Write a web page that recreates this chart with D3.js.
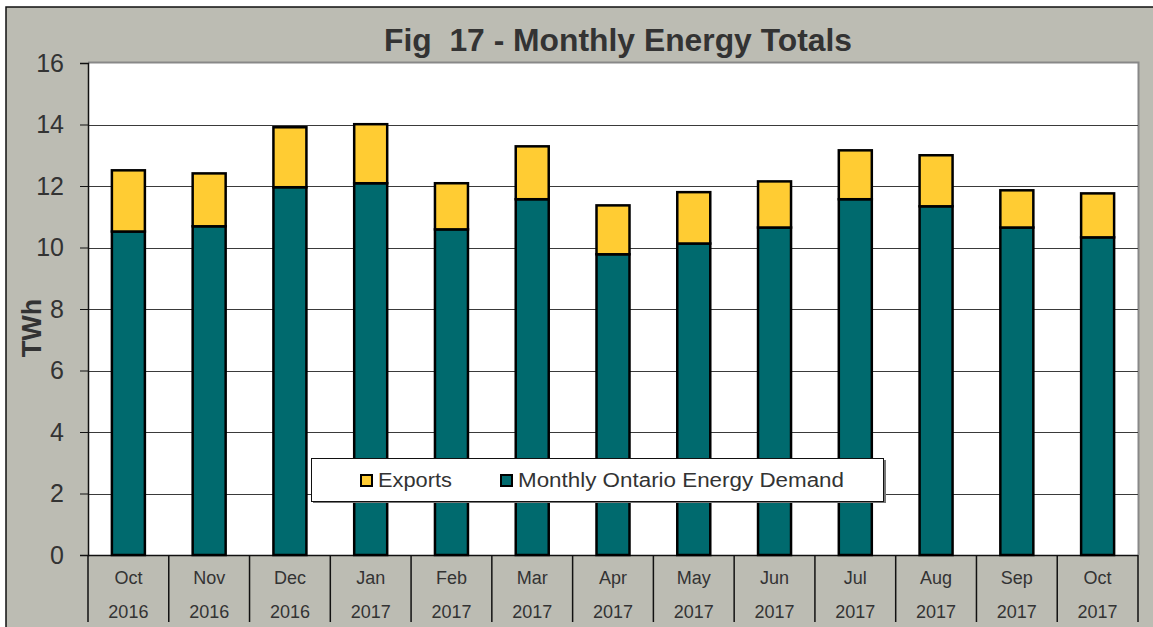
<!DOCTYPE html>
<html>
<head>
<meta charset="utf-8">
<script src="https://cdn.jsdelivr.net/npm/d3@7"></script>
<style>
  body { margin: 0; background: #fff; }
  text { font-family: "Liberation Sans", Arial, sans-serif; fill: #333; }
</style>
</head>
<body>
<script>
// data
var months = ["Oct", "Nov", "Dec", "Jan", "Feb", "Mar", "Apr", "May", "Jun", "Jul", "Aug", "Sep", "Oct"];
var years = ["2016", "2016", "2016", "2017", "2017", "2017", "2017", "2017", "2017", "2017", "2017", "2017", "2017"];
var demand = [10.52, 10.69, 11.96, 12.09, 10.59, 11.57, 9.78, 10.13, 10.65, 11.57, 11.34, 10.65, 10.33];
var exportsVals = [1.99, 1.72, 1.95, 1.92, 1.50, 1.72, 1.59, 1.67, 1.50, 1.59, 1.66, 1.21, 1.43];
var yTicks = [0, 2, 4, 6, 8, 10, 12, 14, 16];
var seriesNames = ["Exports", "Monthly Ontario Energy Demand"];

var W = 1153, H = 627;
var plot = { left: 88, right: 1138, top: 63, bottom: 555 };

var svg = d3.select("body").append("svg")
    .attr("width", W)
    .attr("height", H);

// gray chart background + outer frame
svg.append("rect")
    .attr("x", 6).attr("y", 7)
    .attr("width", W + 10).attr("height", H + 10)
    .attr("fill", "#bcbcb3")
    .attr("stroke", "#111")
    .attr("stroke-width", 1.5);

// plot area
svg.append("rect")
    .attr("x", plot.left).attr("y", plot.top)
    .attr("width", plot.right - plot.left).attr("height", plot.bottom - plot.top)
    .attr("fill", "#fff");
svg.append("path")
    .attr("d", "M" + plot.left + "," + (plot.top - 0.5) + "H" + (plot.right + 0.5) + "V" + plot.bottom)
    .attr("fill", "none")
    .attr("stroke", "#888")
    .attr("stroke-width", 2);

var keys = months.map(function (m, i) { return i; });

var x = d3.scaleBand()
    .domain(keys)
    .range([plot.left, plot.right]);

var y = d3.scaleLinear()
    .domain([0, 16])
    .range([plot.bottom, plot.top]);

// gridlines
svg.append("g")
    .selectAll("line")
    .data(yTicks.filter(function (d) { return d > 0 && d < 16; }))
    .enter().append("line")
    .attr("x1", plot.left).attr("x2", plot.right)
    .attr("y1", function (d) { return Math.round(y(d)) + 0.5; })
    .attr("y2", function (d) { return Math.round(y(d)) + 0.5; })
    .attr("stroke", "#3a3a3a")
    .attr("stroke-width", 1);

// y axis
var yAxis = svg.append("g")
    .attr("transform", "translate(" + plot.left + ",0)")
    .call(d3.axisLeft(y).tickValues(yTicks).tickSize(8).tickPadding(16).tickFormat(d3.format("d")));
yAxis.select(".domain").attr("stroke", "#111").attr("stroke-width", 1.5);
yAxis.selectAll(".tick line").attr("stroke", "#111");
yAxis.selectAll(".tick text")
    .attr("font-size", 25)
    .style("font-family", "'Liberation Sans', Arial, sans-serif")
    .attr("fill", "#333");

// category axis with separators
var catG = svg.append("g");
catG.append("line")
    .attr("x1", plot.left).attr("x2", plot.right)
    .attr("y1", plot.bottom + 0.5).attr("y2", plot.bottom + 0.5)
    .attr("stroke", "#111").attr("stroke-width", 1.5);
catG.selectAll(".sep")
    .data(keys.concat([keys.length]))
    .enter().append("line")
    .attr("class", "sep")
    .attr("x1", function (d) { return d < keys.length ? x(d) : plot.right; })
    .attr("x2", function (d) { return d < keys.length ? x(d) : plot.right; })
    .attr("y1", plot.bottom)
    .attr("y2", 622)
    .attr("stroke", "#111")
    .attr("stroke-width", 1.5);
catG.selectAll(".mon")
    .data(keys)
    .enter().append("text")
    .attr("x", function (d) { return x(d) + x.bandwidth() / 2; })
    .attr("y", 584)
    .attr("text-anchor", "middle")
    .attr("font-size", 18)
    .text(function (d) { return months[d]; });
catG.selectAll(".yr")
    .data(keys)
    .enter().append("text")
    .attr("x", function (d) { return x(d) + x.bandwidth() / 2; })
    .attr("y", 618)
    .attr("text-anchor", "middle")
    .attr("font-size", 18)
    .text(function (d) { return years[d]; });

// stacked bars
var rows = keys.map(function (i) {
    return { i: i, demand: demand[i], exports: exportsVals[i] };
});
var stack = d3.stack().keys(["demand", "exports"]);
var layers = stack(rows);
var colors = { demand: "#006a6e", exports: "#ffcc33" };
var barW = 33;

svg.append("g")
    .selectAll("g")
    .data(layers)
    .enter().append("g")
    .attr("fill", function (d) { return colors[d.key]; })
    .selectAll("rect")
    .data(function (d) { return d; })
    .enter().append("rect")
    .attr("x", function (d) { return x(d.data.i) + x.bandwidth() / 2 - barW / 2; })
    .attr("y", function (d) { return y(d[1]); })
    .attr("width", barW)
    .attr("height", function (d) { return y(d[0]) - y(d[1]); })
    .attr("stroke", "#000")
    .attr("stroke-width", 2.5);

// title (double space kept)
svg.append("text")
    .attr("x", 384)
    .attr("y", 51)
    .attr("font-size", 31)
    .attr("font-weight", "bold")
    .attr("textLength", 468)
    .attr("lengthAdjust", "spacingAndGlyphs")
    .style("white-space", "pre")
    .text("Fig  17 - Monthly Energy Totals");

// y label
svg.append("text")
    .attr("transform", "translate(41," + 328 + ") rotate(-90)")
    .attr("text-anchor", "middle")
    .attr("font-size", 27)
    .attr("font-weight", "bold")
    .text("TWh");

// legend
var lg = svg.append("g");
lg.append("rect")
    .attr("x", 313).attr("y", 460)
    .attr("width", 573).attr("height", 43)
    .attr("fill", "#777");
lg.append("rect")
    .attr("x", 311.5).attr("y", 458.5)
    .attr("width", 572).attr("height", 43)
    .attr("fill", "#fff")
    .attr("stroke", "#111")
    .attr("stroke-width", 1);
var legendItems = [
    { name: seriesNames[0], color: colors.exports, x: 361, len: 74 },
    { name: seriesNames[1], color: colors.demand, x: 501, len: 326 }
];
legendItems.forEach(function (it) {
    lg.append("rect")
        .attr("x", it.x).attr("y", 475)
        .attr("width", 11).attr("height", 11)
        .attr("fill", it.color)
        .attr("stroke", "#000")
        .attr("stroke-width", 2);
    lg.append("text")
        .attr("x", it.x + 17)
        .attr("y", 487)
        .attr("font-size", 20)
        .attr("textLength", it.len)
        .attr("lengthAdjust", "spacingAndGlyphs")
        .text(it.name);
});
</script>
</body>
</html>
